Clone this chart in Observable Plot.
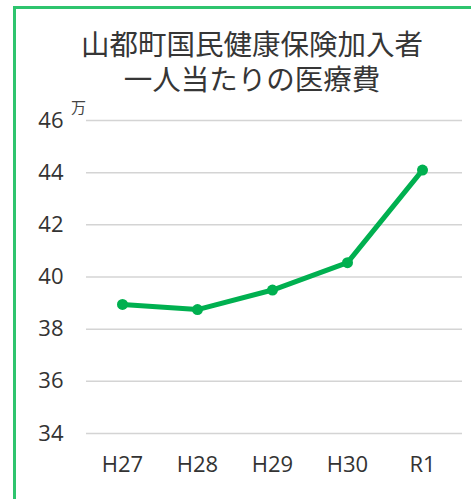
<!DOCTYPE html>
<html><head><meta charset="utf-8">
<script src="https://cdn.jsdelivr.net/npm/d3@7"></script>
<script src="https://cdn.jsdelivr.net/npm/@observablehq/plot@0.6"></script>
<style>
html,body{margin:0;padding:0;background:#fff;}
#wrap{position:relative;width:471px;height:499px;overflow:hidden;background:#fff;}
#frame{position:absolute;left:13px;top:6px;width:470px;height:500px;border-left:3px solid #2ec46e;border-top:3px solid #2ec46e;box-sizing:border-box;}
.t{position:absolute;left:33px;right:0;text-align:center;font-family:"Noto Sans CJK JP",sans-serif;font-size:28.5px;line-height:30px;height:30px;color:#363636;white-space:nowrap;}
#t1{top:28px;}
#t2{top:63px;}
#unit{position:absolute;left:71px;top:96px;font-family:"Noto Sans CJK JP",sans-serif;font-size:15px;color:#444;}
#chart{position:absolute;left:0;top:90px;}
</style></head>
<body><div id="wrap"><div id="frame"></div>
<div class="t" id="t1">山都町国民健康保険加入者</div>
<div class="t" id="t2">一人当たりの医療費</div>
<div id="unit">万</div>
<div id="chart"></div></div>
<script>
const years = ["H27","H28","H29","H30","R1"];
const costs = [38.95, 38.75, 39.5, 40.55, 44.1];
const yTicks = [34,36,38,40,42,44,46];
const data = years.map((y,i)=>({year:y, cost:costs[i]}));
const green = "#00b050";
const plot = Plot.plot({
  width: 471, height: 409,
  marginLeft: 86, marginRight: 13, marginTop: 30, marginBottom: 66,
  style: {fontFamily: "'Open Sans', sans-serif", fontSize: "22px", color: "#333", background: "transparent"},
  x: {type: "point", domain: years, padding: 0.45, label: null, tickSize: 0, tickPadding: 23},
  y: {domain: [34,46], ticks: yTicks, label: null, tickSize: 0, tickPadding: 23},
  marks: [
    Plot.ruleY(yTicks, {stroke: "#d4d4d4", strokeWidth: 1.5, insetRight: -4}),
    Plot.line(data, {x: "year", y: "cost", stroke: green, strokeWidth: 5}),
    Plot.dot(data, {x: "year", y: "cost", fill: green, r: 5.5})
  ]
});
document.getElementById("chart").appendChild(plot);
</script></body></html>
